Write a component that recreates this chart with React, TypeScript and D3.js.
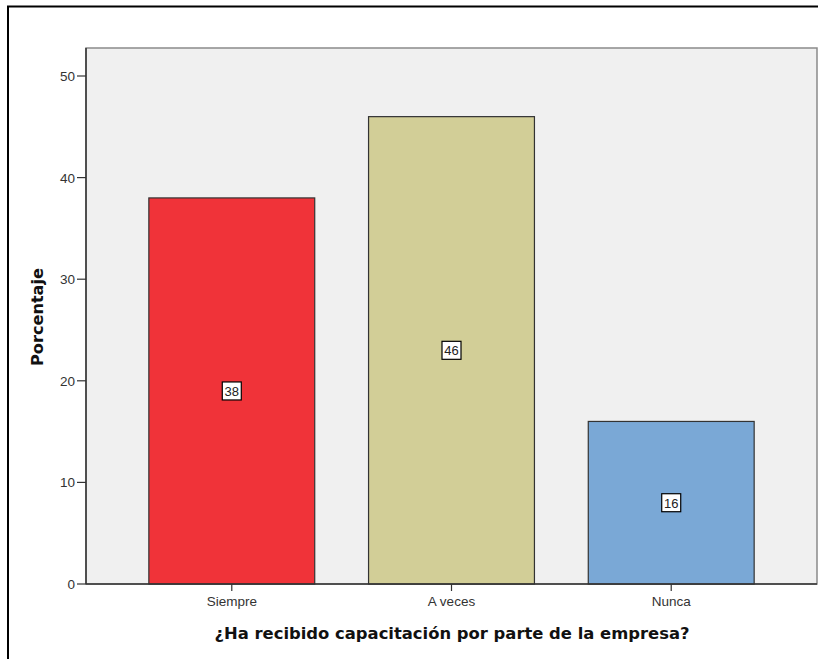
import React from "react";
import * as d3 from "d3";

const categories = ["Siempre", "A veces", "Nunca"];
const percentages = [38, 46, 16];
const barColors = ["#F03339", "#D2CE97", "#7AA8D6"];
const yTicks = [0, 10, 20, 30, 40, 50];

const W = 818;
const H = 659;
const plotLeft = 86;
const plotRight = 817;
const plotTop = 48;
const plotBottom = 584;
const titleFont = "'DejaVu Sans', Verdana, sans-serif";

export default function App() {
  const y = d3.scaleLinear().domain([0, 50]).range([plotBottom, 76]);
  const x = d3
    .scaleBand<string>()
    .domain(categories)
    .range([plotLeft, plotRight])
    .paddingInner(0.245)
    .paddingOuter(0.286);

  return (
    <svg
      width={W}
      height={H}
      style={{ position: "absolute", left: 0, top: 0, fontFamily: "Arial, 'Liberation Sans', sans-serif" }}
    >
      <rect x={0} y={0} width={W} height={H} fill="#fff" />
      {/* outer frame */}
      <rect x={8} y={6.5} width={W + 10} height={H + 10} fill="none" stroke="#000" strokeWidth={2} />
      {/* plot background */}
      <rect
        x={plotLeft}
        y={plotTop}
        width={plotRight - plotLeft}
        height={plotBottom - plotTop}
        fill="#F0F0F0"
        stroke="#8a8a8a"
        strokeWidth={1.5}
      />
      {percentages.map((v, i) => {
        const bx = x(categories[i])!;
        const bw = x.bandwidth();
        const top = y(v);
        const cy = y(v / 2);
        const cx = bx + bw / 2;
        return (
          <g key={categories[i]}>
            <rect
              x={bx}
              y={top}
              width={bw}
              height={plotBottom - top}
              fill={barColors[i]}
              stroke="#333"
              strokeWidth={1.2}
            />
            <rect x={cx - 9.5} y={cy - 9} width={19} height={18} fill="#fff" stroke="#000" strokeWidth={1.2} />
            <text x={cx} y={cy + 4.8} textAnchor="middle" fontSize={13} fill="#222">
              {v}
            </text>
          </g>
        );
      })}
      {/* y axis */}
      <line x1={plotLeft} x2={plotLeft} y1={plotTop} y2={plotBottom} stroke="#333" strokeWidth={1.5} />
      {yTicks.map((t) => (
        <g key={t}>
          <line x1={plotLeft - 9} x2={plotLeft} y1={y(t)} y2={y(t)} stroke="#333" strokeWidth={1.2} />
          <text x={plotLeft - 11} y={y(t) + 5} textAnchor="end" fontSize={13.5} fill="#333">
            {t}
          </text>
        </g>
      ))}
      {/* x axis */}
      <line x1={plotLeft} x2={plotRight} y1={plotBottom} y2={plotBottom} stroke="#333" strokeWidth={1.5} />
      {categories.map((c) => {
        const cx = x(c)! + x.bandwidth() / 2;
        return (
          <g key={c}>
            <line x1={cx} x2={cx} y1={plotBottom} y2={plotBottom + 7} stroke="#333" strokeWidth={1.2} />
            <text x={cx} y={plotBottom + 22} textAnchor="middle" fontSize={13.5} fill="#333">
              {c}
            </text>
          </g>
        );
      })}
      <text
        x={452}
        y={639}
        textAnchor="middle"
        fontSize={16}
        fontWeight="bold"
        fill="#111"
        fontFamily={titleFont}
        textLength={475}
        lengthAdjust="spacingAndGlyphs"
      >
        ¿Ha recibido capacitación por parte de la empresa?
      </text>
      <text
        transform={`translate(43, 317) rotate(-90)`}
        textAnchor="middle"
        fontSize={15}
        fontWeight="bold"
        fill="#111"
        fontFamily={titleFont}
        textLength={98}
        lengthAdjust="spacingAndGlyphs"
      >
        Porcentaje
      </text>
    </svg>
  );
}
